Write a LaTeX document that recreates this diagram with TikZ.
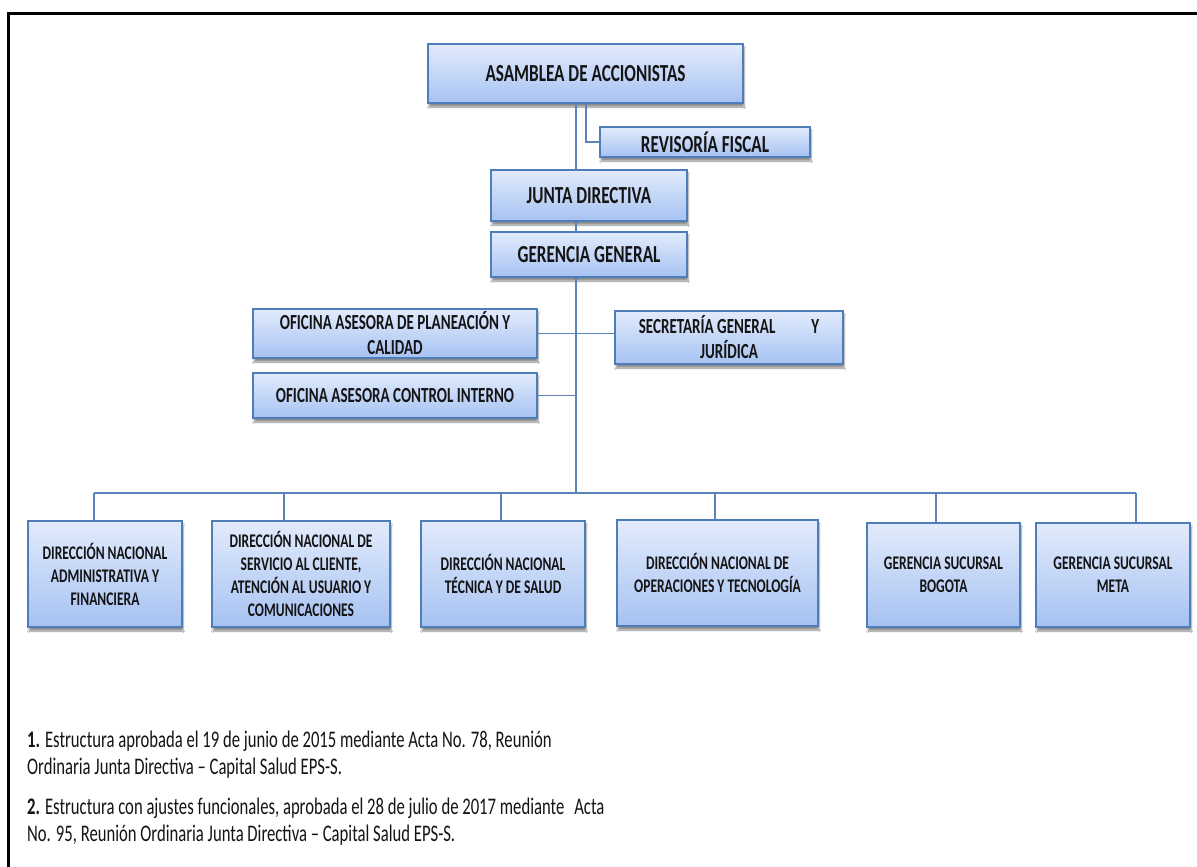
\documentclass[tikz,border=0pt]{standalone}
\usepackage{fontspec}
\setmainfont{Carlito}[FakeStretch=0.7]
\usetikzlibrary{shadows.blur}
\definecolor{boxTop}{HTML}{E2EBFC}
\definecolor{boxBot}{HTML}{A6C2F2}
\definecolor{boxLine}{HTML}{4F7DBA}
\definecolor{connLine}{HTML}{5B84BC}
\definecolor{txt}{HTML}{141414}
\tikzset{
  orgbox/.style={draw=boxLine, line width=1.6pt, top color=boxTop, bottom color=boxBot,
    inner sep=2pt, align=center, text=txt, font=\bfseries\fontsize{21.5}{25}\selectfont,
    blur shadow={shadow xshift=1pt, shadow yshift=-4pt, shadow blur steps=6, shadow opacity=45}},
  bigbox/.style={orgbox, font=\bfseries\fontsize{24.5}{28}\selectfont},
  lowbox/.style={orgbox, font=\bfseries\fontsize{19.3}{23}\selectfont},
  conn/.style={draw=connLine, line width=1.5pt},
  note/.style={anchor=north west, align=left, inner sep=0pt, text=txt, font=\fontsize{23.8}{27}\selectfont}
}
\begin{document}
\begin{tikzpicture}[x=1pt,y=-1pt]
\useasboundingbox (0,0) rectangle (1197,867);
\fill[white] (0,0) rectangle (1197,867);
\draw[line width=3pt] (8,867) -- (8,14) -- (1197,14);

% boxes
\node[bigbox, minimum width=315pt, minimum height=59pt] (asamblea) at (585.5,73.5) {ASAMBLEA DE ACCIONISTAS};
\node[bigbox, minimum width=210pt, minimum height=30pt, inner sep=0pt] (revisoria) at (705,142) {REVISORÍA FISCAL};
\node[bigbox, minimum width=196pt, minimum height=51pt] (junta) at (589,195.5) {JUNTA DIRECTIVA};
\node[bigbox, minimum width=196pt, minimum height=45pt] (gerencia) at (589,254.5) {GERENCIA GENERAL};
\node[orgbox, minimum width=284pt, minimum height=49pt] (planeacion) at (395,333.5) {OFICINA ASESORA DE PLANEACIÓN Y\\CALIDAD};
\node[orgbox, minimum width=228pt, minimum height=53pt] (secretaria) at (729,337.5) {SECRETARÍA GENERAL\hspace{36pt}Y\\JURÍDICA};
\node[orgbox, minimum width=284pt, minimum height=45pt] (control) at (395,395.5) {OFICINA ASESORA CONTROL INTERNO};

\node[lowbox, minimum width=154pt, minimum height=106pt] (d1) at (105,574) {DIRECCIÓN NACIONAL\\ADMINISTRATIVA Y\\FINANCIERA};
\node[lowbox, minimum width=178pt, minimum height=106pt] (d2) at (301,574) {DIRECCIÓN NACIONAL DE\\SERVICIO AL CLIENTE,\\ATENCIÓN AL USUARIO Y\\COMUNICACIONES};
\node[lowbox, minimum width=164pt, minimum height=106pt] (d3) at (503,574) {DIRECCIÓN NACIONAL\\TÉCNICA Y DE SALUD};
\node[lowbox, minimum width=201pt, minimum height=106pt] (d4) at (717.5,573) {DIRECCIÓN NACIONAL DE\\OPERACIONES Y TECNOLOGÍA};
\node[lowbox, minimum width=153pt, minimum height=104pt] (d5) at (943.5,575) {GERENCIA SUCURSAL\\BOGOTA};
\node[lowbox, minimum width=154pt, minimum height=104pt] (d6) at (1113,575) {GERENCIA SUCURSAL\\META};

% connector coordinates
\coordinate (t) at (576,0);
\coordinate (r) at (586,0);
\coordinate (bus) at (576,493);
\coordinate (b1) at (94,493);
\coordinate (b2) at (284,493);
\coordinate (b3) at (501,493);
\coordinate (b4) at (715,493);
\coordinate (b5) at (936,493);
\coordinate (b6) at (1136,493);

\draw[conn] (t |- asamblea.south) -- (t |- junta.north);
\draw[conn] (t |- junta.south) -- (t |- gerencia.north);
\draw[conn] (r |- asamblea.south) -- (r |- revisoria.west) -- (revisoria.west);
\draw[conn] (t |- gerencia.south) -- (bus);
\draw[conn] (planeacion.east) -- (planeacion.east -| secretaria.west);
\draw[conn] (control.east) -- (control.east -| t);
\draw[conn] (b1) -- (b6);
\draw[conn] (b1) -- (b1 |- d1.north);
\draw[conn] (b2) -- (b2 |- d2.north);
\draw[conn] (b3) -- (b3 |- d3.north);
\draw[conn] (b4) -- (b4 |- d4.north);
\draw[conn] (b5) -- (b5 |- d5.north);
\draw[conn] (b6) -- (b6 |- d6.north);

% notes
\node[note] (n1) at (27,731) {\textbf{1.} Estructura aprobada el 19 de junio de 2015 mediante Acta No. 78, Reunión\\Ordinaria Junta Directiva – Capital Salud EPS-S.};
\node[note] (n2) at (27,798) {\textbf{2.} Estructura con ajustes funcionales, aprobada el 28 de julio de 2017 mediante\hspace{10pt}Acta\\No. 95, Reunión Ordinaria Junta Directiva – Capital Salud EPS-S.};
\end{tikzpicture}
\end{document}
